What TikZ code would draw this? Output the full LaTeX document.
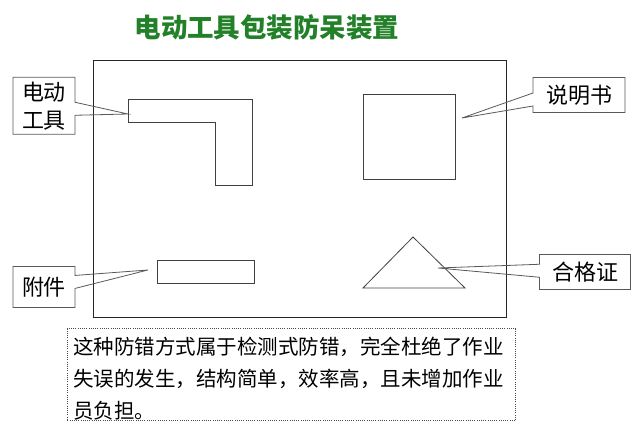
\documentclass[tikz,border=0pt]{standalone}
\usepackage{fontspec}
\setmainfont{Noto Sans CJK SC}
\usepackage{tikz}
\usetikzlibrary{shapes.callouts}
\definecolor{titlegreen}{RGB}{34,128,40}

\begin{document}
\begin{tikzpicture}[x=1pt, y=-1pt,
		tag/.style={rectangle callout, draw=black!65, line width=.8pt, inner sep=0pt,
			callout pointer width=13pt, align=center, font=\fontsize{22}{28}\selectfont},
		part/.style={draw=black!75, line width=.8pt}]
			\useasboundingbox (0,0) rectangle (641,428);
			\node[text=titlegreen, font=\fontsize{26.5}{30}\selectfont\bfseries] (title) at (267,27) {电动工具包装防呆装置};
			% case
			\draw[black!85, line width=.9pt] (93,60) rectangle (506,317);
			% parts in the case
			\draw[part] (128,99) -- (252,99) -- (252,185) -- (215,185) -- (215,122) -- (128,122) -- cycle;
			\draw[part] (363,94) rectangle (455,179);
			\draw[part] (157,260) rectangle (254,283);
			\draw[part] (413,237) -- (465,288) -- (363,288) -- cycle;
			\coordinate (tool) at (128,114);
			\coordinate (manual) at (462,118);
			\coordinate (extra) at (148,270);
			\coordinate (cert) at (438,268);
			% labels
			\node[tag, minimum width=62pt, minimum height=57pt, callout absolute pointer=(tool)] (tooltag) at (44,105.7) {电动\\工具};
			\node[tag, minimum width=92pt, minimum height=35pt, callout absolute pointer=(manual)] (manualtag) at (579,95) {说明书};
			\node[tag, minimum width=62pt, minimum height=41pt, callout absolute pointer=(extra)] (extratag) at (44,287) {附件};
			\node[tag, minimum width=91pt, minimum height=35pt, callout absolute pointer=(cert)] (certtag) at (585,272) {合格证};
			% note
			\node[draw=black!70, line width=.8pt, dash pattern=on 1pt off 1.2pt, anchor=north west,
				text width=436pt, inner xsep=6pt, inner ysep=0pt, align=left,
				font=\fontsize{20.5}{32}\selectfont] (note) at (67,328.3)
				{\rule{0pt}{26pt}这种防错方式属于检测式防错，完全杜绝了作业\\失误的发生，结构简单，效率高，且未增加作业\\员负担。\rule[-2pt]{0pt}{2pt}};
		\end{tikzpicture}
\end{document}
